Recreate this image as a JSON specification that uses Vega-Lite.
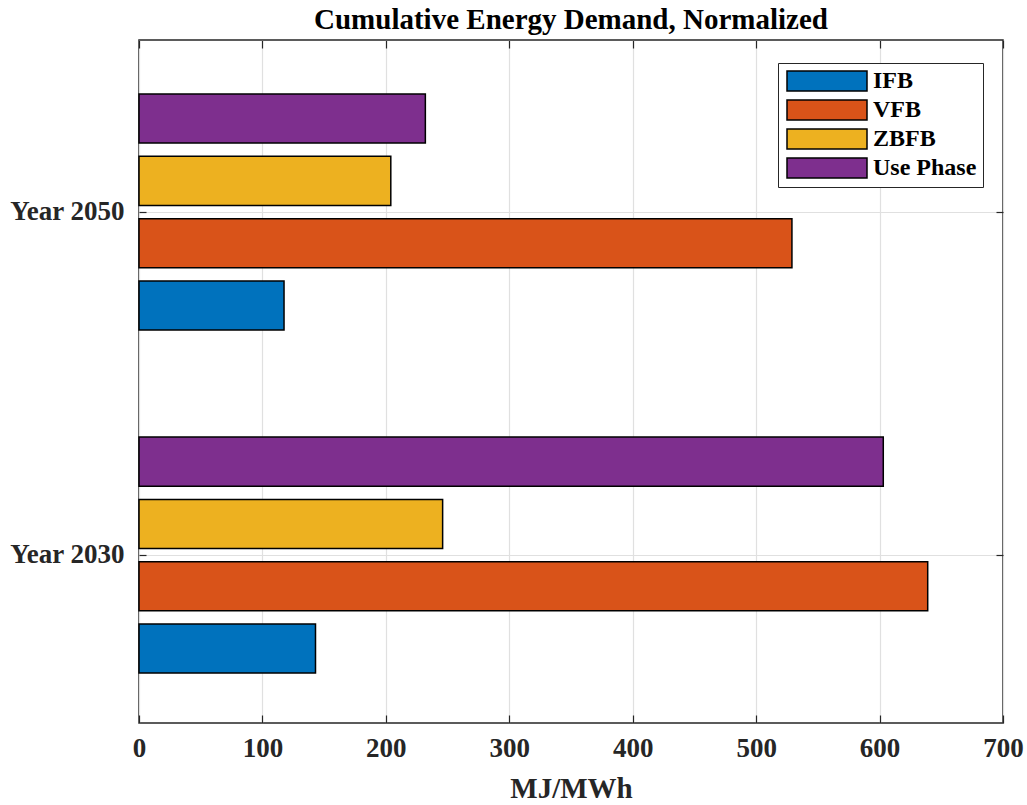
{
  "$schema": "https://vega.github.io/schema/vega-lite/v6.json",
  "width": 864,
  "height": 683,
  "padding": {"left": 9, "top": 6, "right": 5, "bottom": 5},
  "background": "white",
  "title": {"text": "Cumulative Energy Demand, Normalized", "font": "Liberation Serif", "fontSize": 29, "fontWeight": "bold", "color": "#000000", "offset": 4},
  "data": {"values": [
    {"year": "Year 2030", "series": "IFB", "value": 143},
    {"year": "Year 2030", "series": "VFB", "value": 639},
    {"year": "Year 2030", "series": "ZBFB", "value": 246},
    {"year": "Year 2030", "series": "Use Phase", "value": 603},
    {"year": "Year 2050", "series": "IFB", "value": 117.5},
    {"year": "Year 2050", "series": "VFB", "value": 529},
    {"year": "Year 2050", "series": "ZBFB", "value": 204},
    {"year": "Year 2050", "series": "Use Phase", "value": 232}
  ]},
  "config": {
    "view": {"stroke": "#262626", "strokeWidth": 1.5},
    "axis": {
      "labelFont": "Liberation Serif", "labelFontSize": 27, "labelFontWeight": "bold", "labelColor": "#262626",
      "titleFont": "Liberation Serif", "titleFontSize": 29, "titleFontWeight": "bold", "titleColor": "#262626",
      "tickColor": "#262626", "tickWidth": 1.2, "domain": false,
      "gridColor": "#e0e0e0", "gridWidth": 1.2
    },
    "legend": {
      "labelFont": "Liberation Serif", "labelFontSize": 24, "labelFontWeight": "bold", "labelColor": "#000000"
    }
  },
  "layer": [
    {
      "mark": {"type": "bar", "stroke": "#000000", "strokeWidth": 1.5},
      "encoding": {
        "y": {"field": "year", "type": "nominal",
          "scale": {"domain": ["Year 2050", "Year 2030"], "paddingInner": 0.312, "paddingOuter": 0.1515, "align": 0.52},
          "axis": {"orient": "left", "title": null, "tickSize": -7, "labelPadding": 22, "grid": true, "bandPosition": 0.5}},
        "yOffset": {"field": "series", "type": "nominal",
          "scale": {"domain": ["Use Phase", "ZBFB", "VFB", "IFB"], "paddingInner": 0.213, "paddingOuter": 0}},
        "x": {"field": "value", "type": "quantitative",
          "scale": {"domain": [0, 700], "nice": false},
          "axis": {"orient": "bottom", "title": "MJ/MWh", "values": [0, 100, 200, 300, 400, 500, 600, 700], "tickSize": -8, "labelPadding": 20, "titlePadding": 13, "grid": true, "labelFlush": false}},
        "color": {"field": "series", "type": "nominal",
          "scale": {"domain": ["IFB", "VFB", "ZBFB", "Use Phase"], "range": ["#0072BD", "#D95319", "#EDB120", "#7E2F8E"]},
          "legend": {"title": null, "orient": "none", "legendX": 639, "legendY": 23,
            "strokeColor": "#262626", "fillColor": "white", "padding": 6,
            "symbolType": "M-8,-2H8V2H-8Z", "symbolSize": 100,
            "symbolOffset": 31,
            "symbolStrokeColor": "#000000", "symbolStrokeWidth": 1.5, "symbolOpacity": 1,
            "labelOffset": 34, "rowPadding": 3}}
      }
    },
    {
      "mark": {"type": "bar", "opacity": 0},
      "encoding": {
        "y": {"field": "year", "type": "nominal",
          "axis": {"orient": "right", "title": null, "labels": false, "tickSize": -7, "grid": false, "bandPosition": 0.5}},
        "yOffset": {"field": "series", "type": "nominal"},
        "x": {"field": "value", "type": "quantitative",
          "axis": {"orient": "top", "title": null, "labels": false, "values": [0, 100, 200, 300, 400, 500, 600, 700], "tickSize": -8, "grid": false, "labelFlush": false}}
      }
    }
  ],
  "resolve": {"axis": {"x": "independent", "y": "independent"}}
}
